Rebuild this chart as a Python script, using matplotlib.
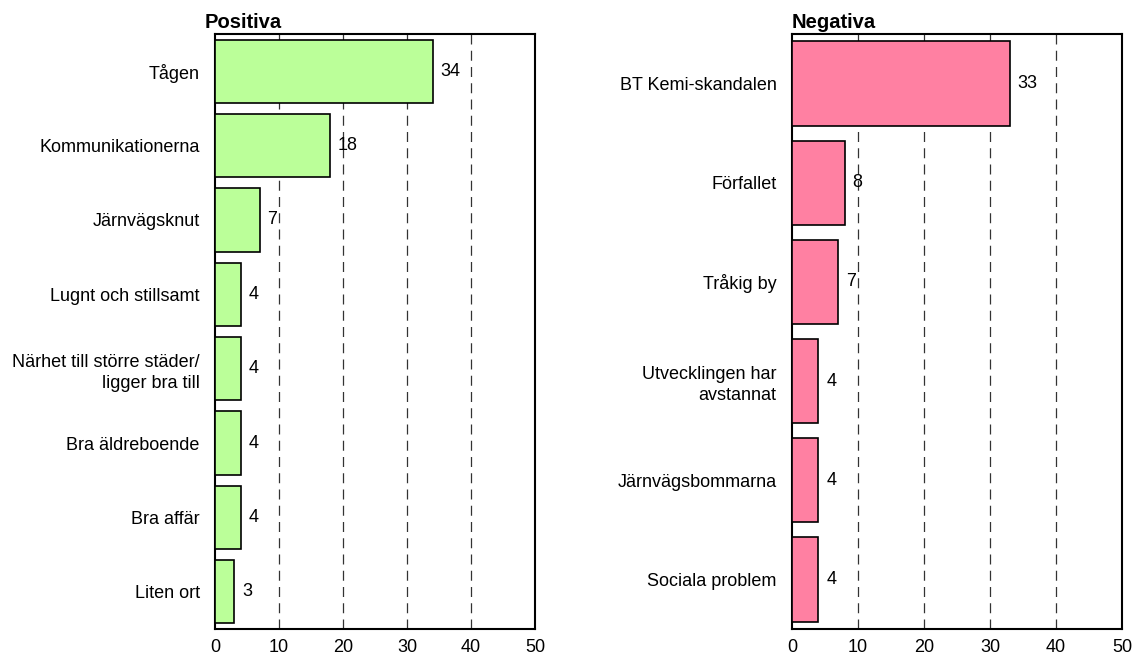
import matplotlib
matplotlib.use("Agg")
import matplotlib.pyplot as plt

pos_labels = ["Tågen", "Kommunikationerna", "Järnvägsknut", "Lugnt och stillsamt",
              "Närhet till större städer/\nligger bra till", "Bra äldreboende", "Bra affär", "Liten ort"]
pos_values = [34, 18, 7, 4, 4, 4, 4, 3]
neg_labels = ["BT Kemi-skandalen", "Förfallet", "Tråkig by", "Utvecklingen har\navstannat",
              "Järnvägsbommarna", "Sociala problem"]
neg_values = [33, 8, 7, 4, 4, 4]
xticks = [0, 10, 20, 30, 40, 50]

plt.rcParams['font.family'] = ['Liberation Sans', 'DejaVu Sans']

fig = plt.figure(figsize=(11.41, 6.59), dpi=100)
W, H = 1141, 659

def panel(left_px, right_px, labels, values, color, title, title_dx):
    ax = fig.add_axes([left_px / W, 1 - 629 / H, (right_px - left_px) / W, (629 - 34) / H])
    n = len(labels)
    ypos = list(range(n))
    ax.barh(ypos, values, height=0.85, color=color, edgecolor='black', linewidth=1.2, zorder=3)
    ax.set_ylim(n - 0.5, -0.5)
    ax.set_xlim(0, 50)
    ax.set_xticks(xticks)
    ax.set_xticklabels([str(t) for t in xticks], fontsize=13)
    ax.set_yticks(ypos)
    ax.set_yticklabels(labels, fontsize=13, multialignment='right', linespacing=1.3)
    ax.tick_params(axis='both', length=0)
    ax.tick_params(axis='y', pad=11)
    ax.tick_params(axis='x', pad=7)
    for g in [10, 20, 30, 40]:
        ax.axvline(g, color='#333333', linestyle=(0, (8, 5)), linewidth=0.9, zorder=1)
    for y, v in zip(ypos, values):
        ax.text(v + 1.2, y, str(v), va='center', ha='left', fontsize=13, zorder=4)
    for s in ax.spines.values():
        s.set_linewidth(1.5)
    ax.text(title_dx / (right_px - left_px), 1.003, title, transform=ax.transAxes, fontsize=14.5,
            fontweight='bold', ha='left', va='bottom')
    return ax

panel(215, 535, pos_labels, pos_values, '#BBFF99', 'Positiva', -10)
panel(792, 1122, neg_labels, neg_values, '#FF80A2', 'Negativa', 0)

fig.savefig('out.png', dpi=100)
